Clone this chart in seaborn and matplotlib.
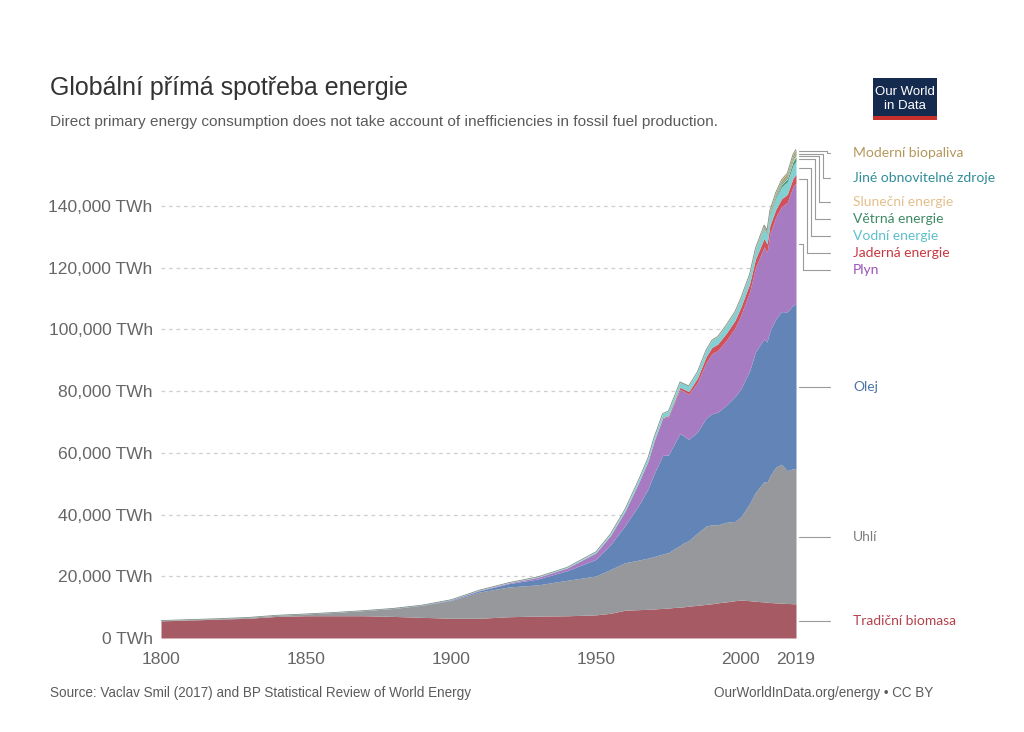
import matplotlib
matplotlib.use("Agg")
import matplotlib.pyplot as plt
import seaborn as sns
import pandas as pd
from matplotlib.lines import Line2D
from matplotlib.patches import Rectangle

# ---------------- data (TWh) ----------------
years = [1800, 1810, 1820, 1830, 1840, 1850, 1860, 1870, 1880, 1890,
         1900, 1910, 1920, 1930, 1940, 1950, 1955, 1960, 1965, 1968,
         1970, 1973, 1975, 1977, 1979, 1980, 1982, 1985, 1988, 1990,
         1992, 1995, 1998, 2000, 2003, 2005, 2008, 2009, 2010, 2012,
         2014, 2016, 2018, 2019]

traditional_biomass = [5556, 5833, 6111, 6389, 7000, 7222, 7222, 7222, 7000, 6700,
                       6400, 6400, 6900, 7100, 7200, 7500, 8000, 9000, 9200, 9300,
                       9400, 9600, 9700, 9900, 10000, 10100, 10300, 10600, 10900, 11100,
                       11400, 11700, 12100, 12300, 12100, 11900, 11700, 11600, 11500, 11400,
                       11300, 11200, 11100, 11100]
coal = [97, 128, 153, 264, 356, 569, 1061, 1642, 2542, 3856,
        5728, 8533, 9639, 10125, 11500, 12600, 14200, 15400, 16100, 16600,
        17000, 17600, 18000, 19000, 20000, 20600, 21300, 23400, 25400, 25600,
        25300, 25800, 25700, 27000, 31500, 35300, 39000, 38800, 41000, 44000,
        45000, 43000, 43800, 43500]
oil = [0, 0, 0, 0, 0, 0, 0, 6, 33, 89,
       181, 431, 1100, 1900, 3100, 5400, 8000, 12000, 18100, 22500,
       26700, 32000, 31600, 34000, 36300, 35000, 32800, 32800, 35000, 36000,
       36500, 38000, 40500, 41500, 43000, 45500, 46300, 45600, 47000, 48000,
       49500, 51500, 53000, 53600]
gas = [0, 0, 0, 0, 0, 0, 0, 0, 0, 0,
       64, 150, 230, 580, 880, 2100, 3000, 4600, 7500, 9000,
       10500, 12000, 12400, 13200, 14300, 14400, 14600, 16000, 18000, 19500,
       20000, 21000, 22300, 23900, 25600, 27300, 29800, 29000, 31500, 33000,
       34000, 35500, 38500, 39300]
nuclear = [0, 0, 0, 0, 0, 0, 0, 0, 0, 0,
           0, 0, 0, 0, 0, 0, 0, 0, 27, 56,
           80, 200, 380, 570, 690, 710, 880, 1450, 1900, 2000,
           2100, 2330, 2430, 2580, 2630, 2770, 2740, 2700, 2760, 2460,
           2540, 2610, 2700, 2800]
hydro = [0, 0, 0, 0, 0, 0, 0, 0, 0, 0,
         15, 40, 70, 130, 190, 330, 500, 690, 920, 1050,
         1180, 1320, 1450, 1500, 1650, 1700, 1770, 1970, 2070, 2150,
         2200, 2470, 2590, 2650, 2670, 2920, 3210, 3240, 3430, 3660,
         3890, 4040, 4200, 4220]
wind = [0, 0, 0, 0, 0, 0, 0, 0, 0, 0,
        0, 0, 0, 0, 0, 0, 0, 0, 0, 0,
        0, 0, 0, 0, 0, 0, 0, 0, 0, 4,
        5, 8, 16, 31, 64, 104, 221, 277, 346, 524,
        712, 962, 1270, 1420]
solar = [0, 0, 0, 0, 0, 0, 0, 0, 0, 0,
         0, 0, 0, 0, 0, 0, 0, 0, 0, 0,
         0, 0, 0, 0, 0, 0, 0, 0, 0, 0,
         0, 0, 0, 1, 1, 4, 12, 20, 32, 99,
         197, 329, 585, 724]
other_renewables = [0, 0, 0, 0, 0, 0, 0, 0, 0, 0,
                    0, 0, 0, 0, 0, 0, 0, 0, 15, 20,
                    25, 30, 35, 40, 50, 55, 70, 90, 110, 130,
                    140, 160, 180, 190, 230, 260, 300, 320, 360, 420,
                    480, 540, 610, 640]
biofuels = [0, 0, 0, 0, 0, 0, 0, 0, 0, 0,
            0, 0, 0, 0, 0, 0, 0, 0, 0, 0,
            0, 0, 0, 0, 0, 0, 0, 0, 0, 80,
            80, 90, 100, 110, 170, 250, 580, 640, 720, 790,
            930, 1000, 1100, 1100]

source_names = ["Tradiční biomasa", "Uhlí", "Olej", "Plyn", "Jaderná energie",
                "Vodní energie", "Větrná energie", "Sluneční energie",
                "Jiné obnovitelné zdroje", "Moderní biopaliva"]
y_ticks = [0, 20000, 40000, 60000, 80000, 100000, 120000, 140000]
x_ticks = [1800, 1850, 1900, 1950, 2000, 2019]

# ---------------- styles ----------------
fill_colors = ["#a65a64", "#96989b", "#6384b7", "#a77bc2", "#d2505a",
               "#83d0d2", "#4f9c7a", "#e8c68e", "#45a0a8", "#b9a26a"]
text_colors = ["#b2414b", "#7d7d7d", "#4d73a8", "#9a53b8", "#c9373f",
               "#5dc0cb", "#3e8a66", "#e3c08c", "#2f8d98", "#b3975a"]

sns.set_theme(style="white")
plt.rcParams["font.family"] = ["Liberation Sans", "DejaVu Sans"]

W, H = 1024, 732
fig = plt.figure(figsize=(W / 100, H / 100), dpi=100)
fig.patch.set_facecolor("white")

px_per_20k = 61.7
y_base = 638
ax = fig.add_axes([161 / W, 1 - y_base / H, 635 / W, 8 * px_per_20k / H])

df = pd.DataFrame({
    "Tradiční biomasa": traditional_biomass,
    "Uhlí": coal,
    "Olej": oil,
    "Plyn": gas,
    "Jaderná energie": nuclear,
    "Vodní energie": hydro,
    "Větrná energie": wind,
    "Sluneční energie": solar,
    "Jiné obnovitelné zdroje": other_renewables,
    "Moderní biopaliva": biofuels,
}, index=years)

ax.stackplot(df.index, [df[c].values for c in source_names],
             colors=fill_colors, linewidth=0, zorder=2)
# thin outline of total
total = df.sum(axis=1).reset_index()
total.columns = ["year", "total"]
sns.lineplot(data=total, x="year", y="total", ax=ax, color="#7b8f86",
             linewidth=0.6, zorder=3)

ax.set_xlim(1800, 2019)
ax.set_ylim(0, 160000)
for v in y_ticks[1:]:
    ax.axhline(v, color="#cfcfcf", lw=0.9, ls=(0, (3, 3)), zorder=1)
ax.set_yticks(y_ticks)
ax.set_yticklabels([f"{v:,} TWh" for v in y_ticks])
ax.set_xticks(x_ticks)
ax.set_xticklabels([str(v) for v in x_ticks])
ax.tick_params(axis="y", length=0, pad=6, labelsize=12.6, labelcolor="#666666")
ax.tick_params(axis="x", length=0, pad=10, labelsize=12.6, labelcolor="#666666")
ax.set_xlabel("")
ax.set_ylabel("")
ax.grid(False)
sns.despine(ax=ax, left=True, bottom=True)

# ---------------- title / subtitle / footer ----------------
fig.text(50 / W, 1 - 88 / H, "Globální přímá spotřeba energie", fontsize=18,
         color="#333333", va="center", ha="left")
fig.text(50 / W, 1 - 122 / H,
         "Direct primary energy consumption does not take account of inefficiencies in fossil fuel production.",
         fontsize=11.1, color="#5b5b5b", va="center", ha="left")
foot_font = ["Liberation Sans Narrow", "Liberation Sans", "DejaVu Sans"]
fig.text(50 / W, 1 - 693 / H,
         "Source: Vaclav Smil (2017) and BP Statistical Review of World Energy",
         fontsize=9.75, color="#5b5b5b", va="center", ha="left", family=foot_font)
fig.text(933 / W, 1 - 693 / H, "OurWorldInData.org/energy • CC BY",
         fontsize=9.75, color="#5b5b5b", va="center", ha="right", family=foot_font)

# ---------------- logo ----------------
fig.add_artist(Rectangle((873 / W, 1 - 120 / H), 64 / W, 42 / H,
                         transform=fig.transFigure, facecolor="#142a4f",
                         edgecolor="none"))
fig.add_artist(Rectangle((873 / W, 1 - 120 / H), 64 / W, 4 / H,
                         transform=fig.transFigure, facecolor="#c8302c",
                         edgecolor="none"))
fig.text(905 / W, 1 - 92 / H, "Our World", fontsize=9.5, color="white",
         ha="center", va="center")
fig.text(905 / W, 1 - 106 / H, "in Data", fontsize=9.5, color="white",
         ha="center", va="center")

# ---------------- labels with connectors ----------------
last = df.iloc[-1]
cum = last.cumsum()
mids = (cum - last / 2)

def data_to_px(v):
    return y_base - v / 20000 * px_per_20k

label_px = {
    "Plyn": 270, "Jaderná energie": 253, "Vodní energie": 236,
    "Větrná energie": 219, "Sluneční energie": 202,
    "Jiné obnovitelné zdroje": 178, "Moderní biopaliva": 153,
}
elbow_px = {
    "Plyn": 803, "Jaderná energie": 807, "Vodní energie": 811,
    "Větrná energie": 815, "Sluneční energie": 819,
    "Jiné obnovitelné zdroje": 823, "Moderní biopaliva": 827,
}
x_start, x_end, x_text = 799, 830, 853
lab_font = ["Lato", "DejaVu Sans"]
for name, tcol in zip(source_names, text_colors):
    ym = data_to_px(mids[name])
    if name in label_px:
        yl = label_px[name]
        xe = elbow_px[name]
        xs = [x_start, xe, xe, x_end]
        ys = [ym, ym, yl, yl]
    else:
        yl = ym
        xs = [x_start, x_end]
        ys = [ym, ym]
    fig.add_artist(Line2D([x / W for x in xs], [1 - y / H for y in ys],
                          transform=fig.transFigure, color="#9a9a9a", lw=0.8))
    fig.text(x_text / W, 1 - yl / H, name, fontsize=10, color=tcol,
             va="center", ha="left", family=lab_font)

fig.savefig("out.png", dpi=100, facecolor="white")
